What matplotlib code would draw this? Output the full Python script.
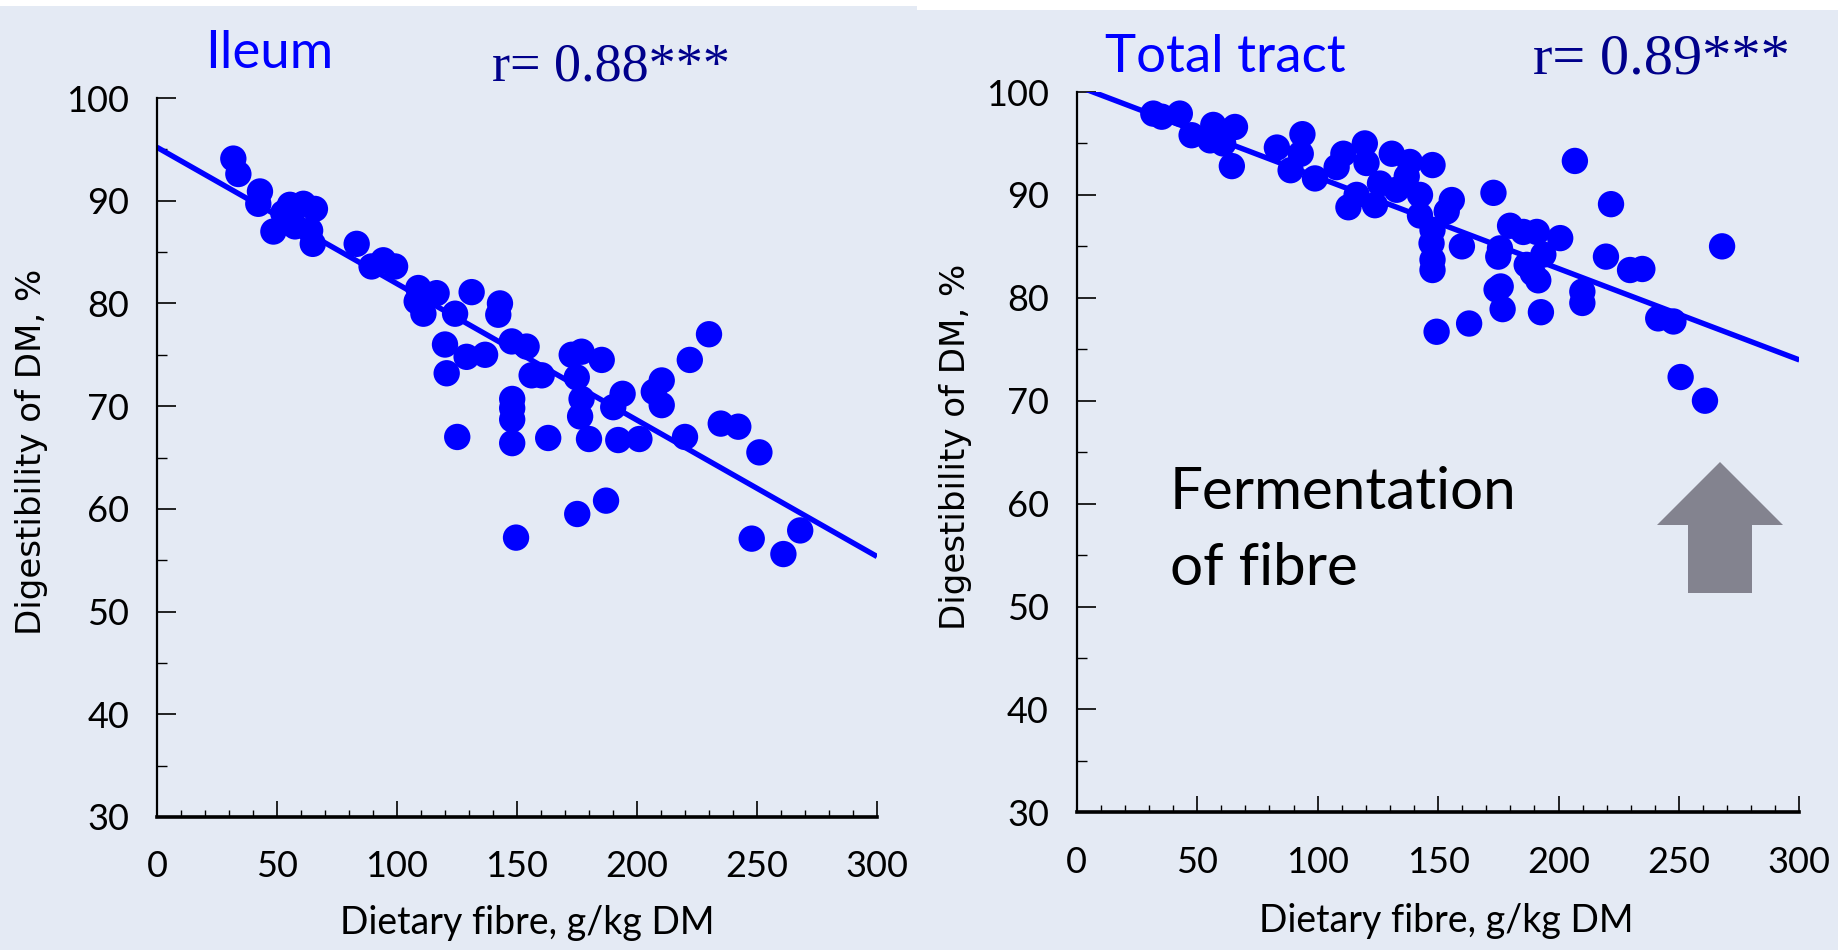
import matplotlib
matplotlib.use('Agg')
import matplotlib.pyplot as plt
from matplotlib.patches import Rectangle, Polygon
from matplotlib.ticker import MultipleLocator

plt.rcParams['font.family'] = ['Lato', 'DejaVu Sans']

# Ileum: dietary fibre (g/kg DM) vs digestibility of DM (%)
ileum_fibre = [31.8, 33.9, 42.9, 42.2, 48.5, 55.4, 61.0, 65.8, 57.5, 63.8,
               64.9, 52.6, 83.2, 89.4, 94.3, 99.2, 108.9, 116.5, 108.2, 111.0,
               131.1, 124.2, 142.9, 142.2, 120.0, 129.0, 136.7, 120.7, 147.8, 154.0,
               156.1, 160.3, 172.8, 176.9, 185.3, 174.9, 176.9, 176.3, 148.0, 148.0,
               148.0, 148.0, 125.1, 163.0, 180.0, 192.2, 201.0, 194.0, 190.1, 210.3,
               207.0, 210.3, 222.0, 230.0, 220.0, 234.9, 242.2, 251.0, 149.6, 175.1,
               187.1, 247.8, 261.0, 268.0]
ileum_dig = [94.1, 92.6, 90.9, 89.7, 87.0, 89.6, 89.7, 89.2, 87.5, 87.1,
             85.8, 88.8, 85.8, 83.6, 84.2, 83.6, 81.5, 81.0, 80.2, 79.0,
             81.1, 79.0, 80.0, 78.9, 76.0, 74.8, 75.0, 73.2, 76.3, 75.8,
             73.0, 73.0, 75.0, 75.3, 74.5, 72.8, 70.7, 69.0, 70.7, 69.8,
             68.7, 66.4, 67.0, 66.9, 66.8, 66.7, 66.8, 71.2, 69.9, 72.5,
             71.4, 70.1, 74.5, 77.0, 67.0, 68.3, 68.0, 65.5, 57.2, 59.5,
             60.8, 57.1, 55.6, 57.9]

# Total tract
total_fibre = [31.8, 35.3, 42.8, 47.7, 56.7, 65.7, 55.4, 60.8, 64.4, 83.1,
               93.7, 93.0, 88.8, 98.9, 110.7, 107.9, 119.6, 120.3, 112.8, 116.2,
               123.8, 130.8, 138.3, 147.7, 125.9, 132.8, 137.0, 142.5, 142.5, 147.3,
               147.7, 147.7, 149.4, 147.7, 155.7, 153.6, 159.9, 162.9, 173.0, 179.9,
               185.4, 191.0, 200.7, 175.0, 175.7, 193.7, 186.8, 191.6, 176.0, 174.3,
               176.8, 192.7, 206.8, 221.8, 219.7, 209.9, 209.9, 229.7, 234.8, 241.4,
               247.7, 250.7, 260.8, 267.9, 189.3]
total_dig = [97.9, 97.6, 97.9, 95.8, 96.8, 96.6, 95.3, 95.0, 92.8, 94.6,
             95.9, 94.0, 92.4, 91.6, 94.0, 92.7, 95.0, 93.1, 88.8, 90.0,
             89.0, 94.0, 93.2, 92.9, 91.1, 90.5, 91.8, 90.0, 88.0, 85.3,
             83.7, 82.7, 76.7, 86.6, 89.5, 88.4, 85.0, 77.5, 90.2, 87.0,
             86.4, 86.4, 85.8, 84.0, 84.8, 84.2, 83.2, 81.7, 81.1, 80.8,
             78.9, 78.6, 93.3, 89.1, 84.0, 80.6, 79.5, 82.7, 82.8, 78.0,
             77.7, 72.3, 70.0, 85.0, 82.4]

# regression lines (intercept, slope)
ileum_fit = (95.2, -0.1328)
total_fit = (100.6, -0.0888)

panel_titles = ['Ileum', 'Total tract']
r_labels = ['r= 0.88***', 'r= 0.89***']
xlabel = 'Dietary fibre, g/kg DM'
ylabel = 'Digestibility of DM, %'

bg = '#e4eaf4'
blue = '#0000ff'
W, H = 1847, 950

fig = plt.figure(figsize=(W / 100, H / 100), dpi=100)
fig.patch.set_facecolor('white')
fig.add_artist(Rectangle((0, 0), 917 / W, (H - 6) / H, transform=fig.transFigure,
                         facecolor=bg, edgecolor='none', zorder=-10))
fig.add_artist(Rectangle((917 / W, 0), (1838 - 917) / W, (H - 10) / H,
                         transform=fig.transFigure, facecolor=bg, edgecolor='none', zorder=-10))

ax1 = fig.add_axes([157 / W, (H - 817) / H, 720 / W, 719 / H])
ax2 = fig.add_axes([1076.7 / W, (H - 812.3) / H, 722.7 / W, 720.3 / H])

panels = [
    (ax1, ileum_fibre, ileum_dig, ileum_fit),
    (ax2, total_fibre, total_dig, total_fit),
]

for ax, xs, ys, fit in panels:
    ax.set_facecolor('none')
    ax.scatter(xs, ys, s=360, color=blue, edgecolors='none', zorder=3)
    a, b = fit
    ax.plot([0, 300], [a, a + b * 300], color=blue, lw=3.9, zorder=2, solid_capstyle='butt')

    ax.set_xlim(0, 300)
    ax.set_ylim(30, 100)
    ax.xaxis.set_major_locator(MultipleLocator(50))
    ax.xaxis.set_minor_locator(MultipleLocator(10))
    ax.yaxis.set_major_locator(MultipleLocator(10))
    ax.yaxis.set_minor_locator(MultipleLocator(5))

    for s in ['top', 'right']:
        ax.spines[s].set_visible(False)
    ax.spines['left'].set_linewidth(1.6)
    ax.spines['bottom'].set_linewidth(2.6)

    ax.tick_params(axis='x', which='major', direction='in', length=11.5, width=1.2,
                   labelsize=26, pad=24)
    ax.tick_params(axis='x', which='minor', direction='in', length=5, width=1.0)
    ax.tick_params(axis='y', which='major', direction='in', length=13.5, width=1.2,
                   labelsize=26, pad=20)
    ax.tick_params(axis='y', which='minor', direction='in', length=7, width=1.0)

    ax.set_xlabel(xlabel, fontsize=27, va='top')
    ax.set_ylabel(ylabel, fontsize=24.5, family=['DejaVu Sans'], va='center')

ax1.xaxis.set_label_coords(0.514, -0.122)
ax2.xaxis.set_label_coords(0.512, -0.126)
ax1.yaxis.set_label_coords(-0.174, 0.508)
ax2.yaxis.set_label_coords(-0.168, 0.507)

# panel titles and correlation
ax1.text(0.067, 1.042, panel_titles[0], transform=ax1.transAxes, fontsize=38,
         color=blue, ha='left', va='baseline')
ax2.text(0.0385, 1.028, panel_titles[1], transform=ax2.transAxes, fontsize=38,
         color=blue, ha='left', va='baseline')
ax1.text(0.465, 1.025, r_labels[0], transform=ax1.transAxes, fontsize=39,
         family='Liberation Serif', color='#00008b', ha='left', va='baseline')
ax2.text(0.631, 1.025, r_labels[1], transform=ax2.transAxes, fontsize=42,
         family='Liberation Serif', color='#00008b', ha='left', va='baseline')

# annotation on total tract panel
ax2.text(0.129, 0.421, 'Fermentation', transform=ax2.transAxes, fontsize=42,
         ha='left', va='baseline', color='black')
ax2.text(0.129, 0.3156, 'of fibre', transform=ax2.transAxes, fontsize=42,
         ha='left', va='baseline', color='black')

# grey block arrow pointing up
cx, tip, base, bottom = 1720, 462, 525, 593
hw, sw = 63, 32
pts = [(cx, tip), (cx + hw, base), (cx + sw, base), (cx + sw, bottom),
       (cx - sw, bottom), (cx - sw, base), (cx - hw, base)]
pts = [(px / W, 1 - py / H) for px, py in pts]
fig.add_artist(Polygon(pts, closed=True, transform=fig.transFigure,
                       facecolor='#83838f', edgecolor='none', zorder=5))

fig.savefig('out.png', dpi=100, facecolor=fig.get_facecolor())
